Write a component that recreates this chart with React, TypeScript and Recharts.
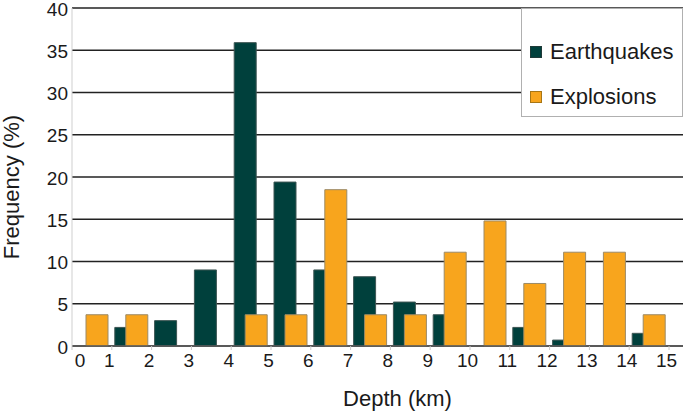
import {
  BarChart,
  Bar,
  XAxis,
  YAxis,
  CartesianGrid,
  Legend,
  Label,
} from "recharts";

// depth bins are 1 km wide, bars sit at the bin midpoints
const depthMid = [0.5, 1.5, 2.5, 3.5, 4.5, 5.5, 6.5, 7.5, 8.5, 9.5, 10.5, 11.5, 12.5, 13.5, 14.5];
const earthquakes = [0, 2.2, 3.0, 9.0, 35.9, 19.4, 9.0, 8.2, 5.2, 3.7, 0, 2.2, 0.7, 0, 1.5];
const explosions = [3.7, 3.7, 0, 0, 3.7, 3.7, 18.5, 3.7, 3.7, 11.1, 14.8, 7.4, 11.1, 11.1, 3.7];
const xTicks = [0, 1, 2, 3, 4, 5, 6, 7, 8, 9, 10, 11, 12, 13, 14, 15];
const yTicks = [0, 5, 10, 15, 20, 25, 30, 35, 40];

const EQ_COLOR = "#00403c";
const EX_COLOR = "#f8a51d";
const FONT = '"Liberation Sans", Arial, sans-serif';

const data = depthMid.map((mid, i) => ({
  mid,
  earthquakes: earthquakes[i],
  explosions: explosions[i],
}));

function XTick(props: any) {
  const { x, y, payload } = props;
  const shift = payload.value === 0 ? 8 : -2.5;
  return (
    <text
      x={x + shift}
      y={y}
      dy={15}
      textAnchor="middle"
      fontSize={19}
      fontFamily={FONT}
      fill="#1a1a1a"
    >
      {payload.value}
    </text>
  );
}

function LegendBox() {
  const items = [
    { name: "Earthquakes", color: EQ_COLOR, border: "#1f3a38" },
    { name: "Explosions", color: EX_COLOR, border: "#a87615" },
  ];
  return (
    <div
      style={{
        width: 162,
        height: 109,
        background: "#fff",
        border: "1px solid #b0b0b0",
        boxSizing: "border-box",
        fontFamily: FONT,
        fontSize: 22,
        color: "#1a1a1a",
        paddingTop: 20,
      }}
    >
      {items.map((it) => (
        <div
          key={it.name}
          style={{ display: "flex", alignItems: "center", height: 45, marginLeft: 8 }}
        >
          <span
            style={{
              width: 10,
              height: 10,
              background: it.color,
              border: `1px solid ${it.border}`,
              marginRight: 8,
              display: "inline-block",
            }}
          />
          {it.name}
        </div>
      ))}
    </div>
  );
}

export default function App() {
  return (
    <div style={{ position: "absolute", left: 0, top: 0, width: 685, height: 414, background: "#fff" }}>
      <BarChart
        width={685}
        height={414}
        data={data}
        margin={{ top: 8, right: 2, bottom: 0, left: 0 }}
        barGap={-11}
        barSize={22}
      >
        <CartesianGrid horizontal vertical={false} stroke="#222" strokeWidth={1.3} />
        <XAxis
          dataKey="mid"
          type="number"
          domain={[0, 15]}
          ticks={xTicks}
          interval={0}
          padding={{ left: 0, right: 14 }}
          height={68}
          axisLine={{ stroke: "#5a5a5a", strokeWidth: 1.5 }}
          tickLine={{ stroke: "#c8c8c8" }}
          tickSize={4}
          tickMargin={2}
          tick={<XTick />}
        >
          <Label
            content={(p: any) => {
              const vb = p.viewBox;
              return (
                <text
                  x={vb.x + vb.width / 2 + 20}
                  y={vb.y + vb.height - 8}
                  textAnchor="middle"
                  fontSize={22}
                  fontFamily={FONT}
                  fill="#1a1a1a"
                >
                  Depth (km)
                </text>
              );
            }}
          />
        </XAxis>
        <YAxis
          type="number"
          domain={[0, 40]}
          ticks={yTicks}
          interval={0}
          width={72}
          axisLine={{ stroke: "#cfcfcf" }}
          tickLine={false}
          tickSize={1}
          tickMargin={3}
          tick={{ fontSize: 19, fontFamily: FONT, fill: "#1a1a1a", dy: 1 }}
        >
          <Label
            content={(p: any) => {
              const vb = p.viewBox;
              const cx = vb.x + 19;
              const cy = vb.y + vb.height / 2 + 10;
              return (
                <text
                  x={cx}
                  y={cy}
                  transform={`rotate(-90, ${cx}, ${cy})`}
                  textAnchor="middle"
                  fontSize={22}
                  fontFamily={FONT}
                  fill="#1a1a1a"
                >
                  Frequency (%)
                </text>
              );
            }}
          />
        </YAxis>
        <Legend
          layout="horizontal"
          verticalAlign="middle"
          align="center"
          wrapperStyle={{ top: 8, left: 521, width: 162, height: 109 }}
          content={() => <LegendBox />}
        />
        <Bar
          dataKey="earthquakes"
          name="Earthquakes"
          fill={EQ_COLOR}
          stroke="#3d5553"
          strokeWidth={1}
          isAnimationActive={false}
        />
        <Bar
          dataKey="explosions"
          name="Explosions"
          fill={EX_COLOR}
          stroke="#9c8a66"
          strokeWidth={1}
          isAnimationActive={false}
        />
      </BarChart>
    </div>
  );
}
